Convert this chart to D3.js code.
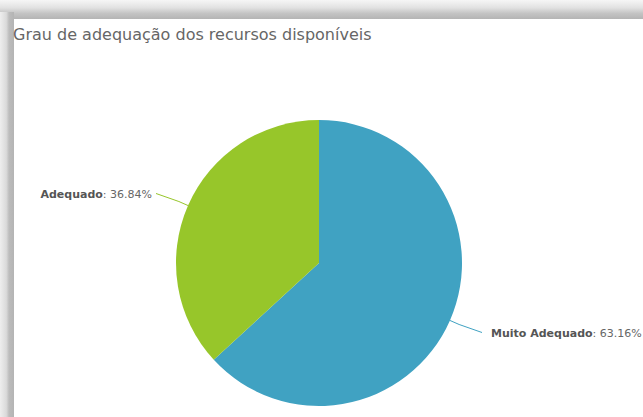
<!DOCTYPE html>
<html>
<head>
<meta charset="utf-8">
<script src="https://d3js.org/d3.v7.min.js"></script>
<title>Grau de adequação dos recursos disponíveis</title>
<style>
body { margin: 0; padding: 0; background: #fff; }
svg { display: block; }
.title { font-family: "DejaVu Sans", Verdana, sans-serif; font-size: 16px; fill: #666; }
.lbl { font-family: "DejaVu Sans", Verdana, sans-serif; font-size: 11px; fill: #666; }
.lbl .name { font-weight: bold; fill: #555; }
</style>
</head>
<body>
<script>
// data
var categories = ["Muito Adequado", "Adequado"];
var values = [63.16, 36.84];
var colors = ["#40a2c2", "#97c62a"];
var chartTitle = "Grau de adequação dos recursos disponíveis";

var width = 643, height = 417;
var cx = 319, cy = 263, r = 143;

var svg = d3.select("body").append("svg")
    .attr("width", width)
    .attr("height", height);

// screenshot frame shadow
var defs = svg.append("defs");
var gTop = defs.append("linearGradient").attr("id", "gTop")
    .attr("x1", 0).attr("y1", 0).attr("x2", 0).attr("y2", 1);
gTop.append("stop").attr("offset", "0%").attr("stop-color", "#f6f6f6");
gTop.append("stop").attr("offset", "40%").attr("stop-color", "#e2e2e2");
gTop.append("stop").attr("offset", "70%").attr("stop-color", "#c4c4c4");
gTop.append("stop").attr("offset", "100%").attr("stop-color", "#b4b4b4");
var gLeft = defs.append("linearGradient").attr("id", "gLeft")
    .attr("x1", 0).attr("y1", 0).attr("x2", 1).attr("y2", 0);
gLeft.append("stop").attr("offset", "0%").attr("stop-color", "#eeeeee");
gLeft.append("stop").attr("offset", "45%").attr("stop-color", "#dadada");
gLeft.append("stop").attr("offset", "65%").attr("stop-color", "#bcbcbc");
gLeft.append("stop").attr("offset", "100%").attr("stop-color", "#b4b4b4");

svg.append("rect").attr("x", 0).attr("y", 0).attr("width", width).attr("height", 19).attr("fill", "url(#gTop)");
svg.append("rect").attr("x", 0).attr("y", 12).attr("width", 14).attr("height", height - 12).attr("fill", "url(#gLeft)");
svg.append("rect").attr("x", 14).attr("y", 19).attr("width", width - 14).attr("height", height - 19).attr("fill", "#fff");

svg.append("text").attr("class", "title")
    .attr("x", 13).attr("y", 40)
    .text(chartTitle);

var pie = d3.pie().sort(null).value(function(d) { return d; });
var arcs = pie(values);
var arc = d3.arc().innerRadius(0).outerRadius(r);

var g = svg.append("g").attr("transform", "translate(" + cx + "," + cy + ")");

g.selectAll("path.slice")
  .data(arcs)
  .enter().append("path")
    .attr("class", "slice")
    .attr("d", arc)
    .attr("fill", function(d, i) { return colors[i]; });

function polar(a, rad) { return [Math.sin(a) * rad, -Math.cos(a) * rad]; }

arcs.forEach(function(d, i) {
  var mid = (d.startAngle + d.endAngle) / 2;
  var right = Math.sin(mid) > 0;
  var p0 = polar(mid, r);
  var p1 = polar(mid, r + 10);
  var end = [ (right ? 1 : -1) * (r + 20), polar(mid, r + 30)[1] ];
  g.append("path")
    .attr("d", d3.line()([p0, p1, end]))
    .attr("fill", "none")
    .attr("stroke", colors[i])
    .attr("stroke-width", 1);

  var t = g.append("text").attr("class", "lbl")
    .attr("x", end[0] + (right ? 9 : -4))
    .attr("y", end[1] + 4)
    .attr("text-anchor", right ? "start" : "end");
  t.append("tspan").attr("class", "name").text(categories[i]);
  t.append("tspan").text(": " + d3.format(".2f")(values[i]) + "%");
});
</script>
</body>
</html>
